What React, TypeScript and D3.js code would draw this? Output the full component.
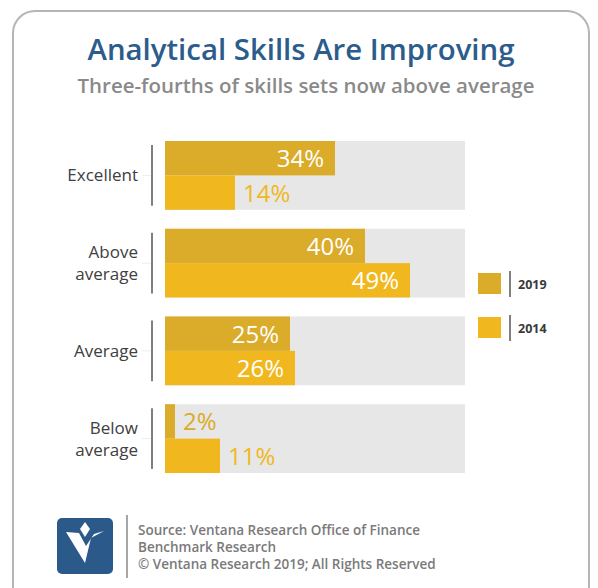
import React from "react";
import * as d3 from "d3";

const categories = ["Excellent", "Above average", "Average", "Below average"];
const series = ["2019", "2014"];
const values2019 = [34, 40, 25, 2];
const values2014 = [14, 49, 26, 11];
const colors = ["#dbab2a", "#f0b81e"];

const font = "'Open Sans', 'Noto Sans', sans-serif";

export default function App() {
  const x = d3.scaleLinear().domain([0, 60]).range([165, 465]);
  const y = d3.scaleBand().domain(categories).range([141, 473]).paddingInner(19 / 88).paddingOuter(0);
  const sub = d3.scaleBand().domain(series).range([0, y.bandwidth()]);
  const legendY = d3.scaleBand().domain(series).range([273, 361]);

  const rows = categories.map((c, i) => ({ c, vals: [values2019[i], values2014[i]] }));

  return (
    <svg width={598} height={588} style={{ position: "absolute", left: 0, top: 0 }}>
      <rect x={0} y={0} width={598} height={588} fill="#fff" />
      <rect x={13} y={11} width={576} height={600} rx={22} fill="#fff" stroke="#b5b5b5" strokeWidth={2} />
      <text x={301} y={60} textAnchor="middle" fontFamily={font} fontWeight={600} fontSize={29} fill="#2b5c8c"
        textLength={427} lengthAdjust="spacingAndGlyphs">
        Analytical Skills Are Improving
      </text>
      <text x={306} y={93} textAnchor="middle" fontFamily={font} fontWeight={600} fontSize={20} fill="#8a8a8a"
        textLength={457} lengthAdjust="spacingAndGlyphs">
        Three-fourths of skills sets now above average
      </text>

      {rows.map((r) => {
        const y0 = y(r.c)!;
        const h = y.bandwidth();
        const words = r.c === "Excellent" || r.c === "Average" ? [r.c] : r.c.split(" ");
        return (
          <g key={r.c}>
            <rect x={x(0)} y={y0} width={x(60) - x(0)} height={h} fill="#e6e7e6" />
            <line x1={152} x2={152} y1={y0 + 4} y2={y0 + h - 4} stroke="#555" strokeWidth={1.5} />
            <line x1={142} x2={151} y1={y0 + h / 2} y2={y0 + h / 2} stroke="#eee" strokeWidth={1} />
            {words.map((w, k) => (
              <text key={w} x={138} y={y0 + h / 2 + 6 + (k - (words.length - 1) / 2) * 22} textAnchor="end"
                fontFamily={font} fontWeight={500} fontSize={17} fill="#404040">
                {w}
              </text>
            ))}
            {r.vals.map((v, j) => {
              const by = y0 + sub(series[j])!;
              const inside = v >= 15;
              return (
                <g key={j}>
                  <rect x={x(0)} y={by} width={x(v) - x(0)} height={sub.bandwidth()} fill={colors[j]} />
                  <text x={inside ? x(v) - 11 : x(v) + 8} y={by + sub.bandwidth() / 2 + 9}
                    textAnchor={inside ? "end" : "start"} fontFamily={font} fontWeight={400} fontSize={24}
                    fill={inside ? "#fff" : colors[j]}>
                    {v}%
                  </text>
                </g>
              );
            })}
          </g>
        );
      })}

      {series.map((s, j) => {
        const ly = legendY(s)!;
        return (
          <g key={s}>
            <rect x={478} y={ly} width={23} height={21} fill={colors[j]} />
            <line x1={510} x2={510} y1={ly - 2} y2={ly + 24} stroke="#555" strokeWidth={1.5} />
            <text x={518} y={ly + 16} fontFamily={font} fontWeight={700} fontSize={12.5} fill="#3a3a3a">{s}</text>
          </g>
        );
      })}

      <rect x={57} y={518} width={56} height={56} rx={5} fill="#2b5a8a" />
      <path d="M66,532 L79,533 L86,546 L94,534 L104,531 L91,538 L85,563 Z" fill="#fff" />
      <path d="M85,522 L90,529 L85,537 L80,529 Z" fill="#fff" />
      <line x1={127} x2={127} y1={515} y2={578} stroke="#888" strokeWidth={1.5} />
      {["Source: Ventana Research Office of Finance", "Benchmark Research", "© Ventana Research 2019; All Rights Reserved"].map((t, i) => (
        <text key={i} x={138} y={535 + i * 17} fontFamily={font} fontWeight={600} fontSize={13.5} fill="#7a7a7a">{t}</text>
      ))}
    </svg>
  );
}
